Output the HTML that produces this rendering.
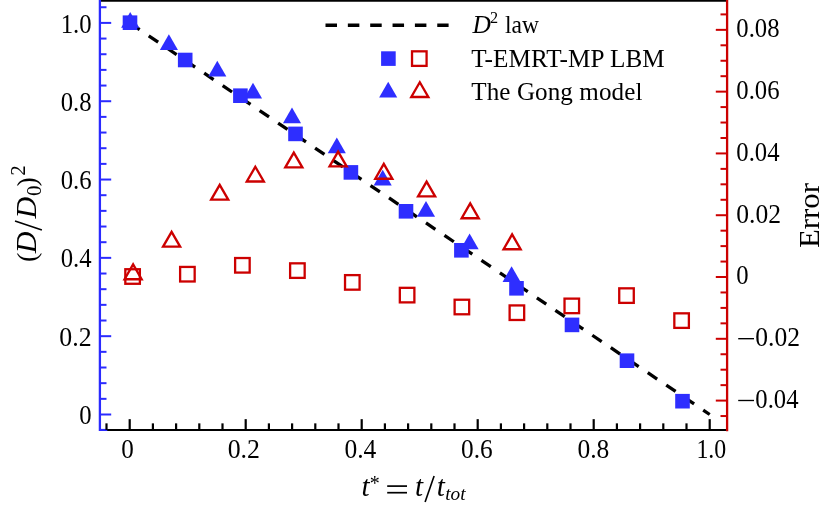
<!DOCTYPE html><html><head><meta charset="utf-8"><style>html,body{margin:0;padding:0;background:#fff}svg{display:block}text{font-family:"Liberation Serif",serif;fill:#000}</style></head><body>
<svg style="will-change:transform" width="827" height="509" viewBox="0 0 827 509">
<rect width="827" height="509" fill="#fff"/>
<line x1="129.7" y1="22.9" x2="709.7" y2="414.5" stroke="#000" stroke-width="3.3" stroke-dasharray="11.3 11" stroke-dashoffset="21.6"/>
<line x1="325.5" y1="25.2" x2="448.6" y2="25.2" stroke="#000" stroke-width="3.5" stroke-dasharray="11.5 10.85"/>
<line x1="99.9" y1="0.55" x2="727.1" y2="0.55" stroke="#000" stroke-width="2.6"/>
<line x1="99.9" y1="429.95" x2="727.1" y2="429.95" stroke="#000" stroke-width="2.1"/>
<line x1="99.9" y1="429.95" x2="107.30" y2="429.95" stroke="#2a2aff" stroke-width="2.1"/>
<line x1="106.50" y1="429.95" x2="106.50" y2="423.34999999999997" stroke="#000" stroke-width="2.2"/>
<line x1="129.70" y1="429.95" x2="129.70" y2="419.15" stroke="#000" stroke-width="2.2"/>
<line x1="152.90" y1="429.95" x2="152.90" y2="423.34999999999997" stroke="#000" stroke-width="2.2"/>
<line x1="176.10" y1="429.95" x2="176.10" y2="423.34999999999997" stroke="#000" stroke-width="2.2"/>
<line x1="199.30" y1="429.95" x2="199.30" y2="423.34999999999997" stroke="#000" stroke-width="2.2"/>
<line x1="222.50" y1="429.95" x2="222.50" y2="423.34999999999997" stroke="#000" stroke-width="2.2"/>
<line x1="245.70" y1="429.95" x2="245.70" y2="419.15" stroke="#000" stroke-width="2.2"/>
<line x1="268.90" y1="429.95" x2="268.90" y2="423.34999999999997" stroke="#000" stroke-width="2.2"/>
<line x1="292.10" y1="429.95" x2="292.10" y2="423.34999999999997" stroke="#000" stroke-width="2.2"/>
<line x1="315.30" y1="429.95" x2="315.30" y2="423.34999999999997" stroke="#000" stroke-width="2.2"/>
<line x1="338.50" y1="429.95" x2="338.50" y2="423.34999999999997" stroke="#000" stroke-width="2.2"/>
<line x1="361.70" y1="429.95" x2="361.70" y2="419.15" stroke="#000" stroke-width="2.2"/>
<line x1="384.90" y1="429.95" x2="384.90" y2="423.34999999999997" stroke="#000" stroke-width="2.2"/>
<line x1="408.10" y1="429.95" x2="408.10" y2="423.34999999999997" stroke="#000" stroke-width="2.2"/>
<line x1="431.30" y1="429.95" x2="431.30" y2="423.34999999999997" stroke="#000" stroke-width="2.2"/>
<line x1="454.50" y1="429.95" x2="454.50" y2="423.34999999999997" stroke="#000" stroke-width="2.2"/>
<line x1="477.70" y1="429.95" x2="477.70" y2="419.15" stroke="#000" stroke-width="2.2"/>
<line x1="500.90" y1="429.95" x2="500.90" y2="423.34999999999997" stroke="#000" stroke-width="2.2"/>
<line x1="524.10" y1="429.95" x2="524.10" y2="423.34999999999997" stroke="#000" stroke-width="2.2"/>
<line x1="547.30" y1="429.95" x2="547.30" y2="423.34999999999997" stroke="#000" stroke-width="2.2"/>
<line x1="570.50" y1="429.95" x2="570.50" y2="423.34999999999997" stroke="#000" stroke-width="2.2"/>
<line x1="593.70" y1="429.95" x2="593.70" y2="419.15" stroke="#000" stroke-width="2.2"/>
<line x1="616.90" y1="429.95" x2="616.90" y2="423.34999999999997" stroke="#000" stroke-width="2.2"/>
<line x1="640.10" y1="429.95" x2="640.10" y2="423.34999999999997" stroke="#000" stroke-width="2.2"/>
<line x1="663.30" y1="429.95" x2="663.30" y2="423.34999999999997" stroke="#000" stroke-width="2.2"/>
<line x1="686.50" y1="429.95" x2="686.50" y2="423.34999999999997" stroke="#000" stroke-width="2.2"/>
<line x1="709.70" y1="429.95" x2="709.70" y2="419.15" stroke="#000" stroke-width="2.2"/>
<line x1="99.9" y1="0" x2="99.9" y2="431.0" stroke="#2a2aff" stroke-width="2.3"/>
<line x1="99.9" y1="414.50" x2="111.2" y2="414.50" stroke="#2a2aff" stroke-width="2"/>
<line x1="99.9" y1="398.84" x2="106.5" y2="398.84" stroke="#2a2aff" stroke-width="2"/>
<line x1="99.9" y1="383.17" x2="106.5" y2="383.17" stroke="#2a2aff" stroke-width="2"/>
<line x1="99.9" y1="367.51" x2="106.5" y2="367.51" stroke="#2a2aff" stroke-width="2"/>
<line x1="99.9" y1="351.84" x2="106.5" y2="351.84" stroke="#2a2aff" stroke-width="2"/>
<line x1="99.9" y1="336.18" x2="111.2" y2="336.18" stroke="#2a2aff" stroke-width="2"/>
<line x1="99.9" y1="320.52" x2="106.5" y2="320.52" stroke="#2a2aff" stroke-width="2"/>
<line x1="99.9" y1="304.85" x2="106.5" y2="304.85" stroke="#2a2aff" stroke-width="2"/>
<line x1="99.9" y1="289.19" x2="106.5" y2="289.19" stroke="#2a2aff" stroke-width="2"/>
<line x1="99.9" y1="273.52" x2="106.5" y2="273.52" stroke="#2a2aff" stroke-width="2"/>
<line x1="99.9" y1="257.86" x2="111.2" y2="257.86" stroke="#2a2aff" stroke-width="2"/>
<line x1="99.9" y1="242.20" x2="106.5" y2="242.20" stroke="#2a2aff" stroke-width="2"/>
<line x1="99.9" y1="226.53" x2="106.5" y2="226.53" stroke="#2a2aff" stroke-width="2"/>
<line x1="99.9" y1="210.87" x2="106.5" y2="210.87" stroke="#2a2aff" stroke-width="2"/>
<line x1="99.9" y1="195.20" x2="106.5" y2="195.20" stroke="#2a2aff" stroke-width="2"/>
<line x1="99.9" y1="179.54" x2="111.2" y2="179.54" stroke="#2a2aff" stroke-width="2"/>
<line x1="99.9" y1="163.88" x2="106.5" y2="163.88" stroke="#2a2aff" stroke-width="2"/>
<line x1="99.9" y1="148.21" x2="106.5" y2="148.21" stroke="#2a2aff" stroke-width="2"/>
<line x1="99.9" y1="132.55" x2="106.5" y2="132.55" stroke="#2a2aff" stroke-width="2"/>
<line x1="99.9" y1="116.88" x2="106.5" y2="116.88" stroke="#2a2aff" stroke-width="2"/>
<line x1="99.9" y1="101.22" x2="111.2" y2="101.22" stroke="#2a2aff" stroke-width="2"/>
<line x1="99.9" y1="85.56" x2="106.5" y2="85.56" stroke="#2a2aff" stroke-width="2"/>
<line x1="99.9" y1="69.89" x2="106.5" y2="69.89" stroke="#2a2aff" stroke-width="2"/>
<line x1="99.9" y1="54.23" x2="106.5" y2="54.23" stroke="#2a2aff" stroke-width="2"/>
<line x1="99.9" y1="38.56" x2="106.5" y2="38.56" stroke="#2a2aff" stroke-width="2"/>
<line x1="99.9" y1="22.90" x2="111.2" y2="22.90" stroke="#2a2aff" stroke-width="2"/>
<line x1="99.9" y1="7.24" x2="106.5" y2="7.24" stroke="#2a2aff" stroke-width="2"/>
<line x1="727.1" y1="0" x2="727.1" y2="431.34999999999997" stroke="#cc0000" stroke-width="2.3"/>
<line x1="727.1" y1="14.40" x2="720.5" y2="14.40" stroke="#cc0000" stroke-width="2"/>
<line x1="727.1" y1="29.85" x2="715.8000000000001" y2="29.85" stroke="#cc0000" stroke-width="2"/>
<line x1="727.1" y1="45.30" x2="720.5" y2="45.30" stroke="#cc0000" stroke-width="2"/>
<line x1="727.1" y1="60.75" x2="720.5" y2="60.75" stroke="#cc0000" stroke-width="2"/>
<line x1="727.1" y1="76.19" x2="720.5" y2="76.19" stroke="#cc0000" stroke-width="2"/>
<line x1="727.1" y1="91.64" x2="715.8000000000001" y2="91.64" stroke="#cc0000" stroke-width="2"/>
<line x1="727.1" y1="107.09" x2="720.5" y2="107.09" stroke="#cc0000" stroke-width="2"/>
<line x1="727.1" y1="122.53" x2="720.5" y2="122.53" stroke="#cc0000" stroke-width="2"/>
<line x1="727.1" y1="137.98" x2="720.5" y2="137.98" stroke="#cc0000" stroke-width="2"/>
<line x1="727.1" y1="153.43" x2="715.8000000000001" y2="153.43" stroke="#cc0000" stroke-width="2"/>
<line x1="727.1" y1="168.88" x2="720.5" y2="168.88" stroke="#cc0000" stroke-width="2"/>
<line x1="727.1" y1="184.32" x2="720.5" y2="184.32" stroke="#cc0000" stroke-width="2"/>
<line x1="727.1" y1="199.77" x2="720.5" y2="199.77" stroke="#cc0000" stroke-width="2"/>
<line x1="727.1" y1="215.22" x2="715.8000000000001" y2="215.22" stroke="#cc0000" stroke-width="2"/>
<line x1="727.1" y1="230.67" x2="720.5" y2="230.67" stroke="#cc0000" stroke-width="2"/>
<line x1="727.1" y1="246.11" x2="720.5" y2="246.11" stroke="#cc0000" stroke-width="2"/>
<line x1="727.1" y1="261.56" x2="720.5" y2="261.56" stroke="#cc0000" stroke-width="2"/>
<line x1="727.1" y1="277.01" x2="715.8000000000001" y2="277.01" stroke="#cc0000" stroke-width="2"/>
<line x1="727.1" y1="292.46" x2="720.5" y2="292.46" stroke="#cc0000" stroke-width="2"/>
<line x1="727.1" y1="307.91" x2="720.5" y2="307.91" stroke="#cc0000" stroke-width="2"/>
<line x1="727.1" y1="323.35" x2="720.5" y2="323.35" stroke="#cc0000" stroke-width="2"/>
<line x1="727.1" y1="338.80" x2="715.8000000000001" y2="338.80" stroke="#cc0000" stroke-width="2"/>
<line x1="727.1" y1="354.25" x2="720.5" y2="354.25" stroke="#cc0000" stroke-width="2"/>
<line x1="727.1" y1="369.69" x2="720.5" y2="369.69" stroke="#cc0000" stroke-width="2"/>
<line x1="727.1" y1="385.14" x2="720.5" y2="385.14" stroke="#cc0000" stroke-width="2"/>
<line x1="727.1" y1="400.59" x2="715.8000000000001" y2="400.59" stroke="#cc0000" stroke-width="2"/>
<line x1="727.1" y1="416.04" x2="720.5" y2="416.04" stroke="#cc0000" stroke-width="2"/>
<polygon points="130.20,12.05 139.25,27.73 121.15,27.73" fill="#2e2eff"/>
<polygon points="168.90,34.35 177.95,50.02 159.85,50.02" fill="#2e2eff"/>
<polygon points="217.30,60.75 226.35,76.42 208.25,76.42" fill="#2e2eff"/>
<polygon points="253.00,82.85 262.05,98.52 243.95,98.52" fill="#2e2eff"/>
<polygon points="292.00,107.55 301.05,123.22 282.95,123.22" fill="#2e2eff"/>
<polygon points="336.80,137.55 345.85,153.22 327.75,153.22" fill="#2e2eff"/>
<polygon points="382.70,169.75 391.75,185.42 373.65,185.42" fill="#2e2eff"/>
<polygon points="426.00,201.05 435.05,216.72 416.95,216.72" fill="#2e2eff"/>
<polygon points="469.60,233.55 478.65,249.22 460.55,249.22" fill="#2e2eff"/>
<polygon points="511.60,266.25 520.65,281.93 502.55,281.93" fill="#2e2eff"/>
<rect x="122.70" y="15.40" width="14.6" height="14.6" fill="#2e2eff"/>
<rect x="177.90" y="52.70" width="14.6" height="14.6" fill="#2e2eff"/>
<rect x="233.10" y="88.40" width="14.6" height="14.6" fill="#2e2eff"/>
<rect x="288.20" y="126.60" width="14.6" height="14.6" fill="#2e2eff"/>
<rect x="343.60" y="165.10" width="14.6" height="14.6" fill="#2e2eff"/>
<rect x="398.70" y="204.00" width="14.6" height="14.6" fill="#2e2eff"/>
<rect x="454.10" y="243.00" width="14.6" height="14.6" fill="#2e2eff"/>
<rect x="509.20" y="281.00" width="14.6" height="14.6" fill="#2e2eff"/>
<rect x="564.70" y="317.60" width="14.6" height="14.6" fill="#2e2eff"/>
<rect x="619.70" y="353.40" width="14.6" height="14.6" fill="#2e2eff"/>
<rect x="675.20" y="393.90" width="14.6" height="14.6" fill="#2e2eff"/>
<rect x="125.32" y="269.23" width="14.55" height="14.55" fill="none" stroke="#cc0000" stroke-width="2.3"/>
<rect x="180.12" y="266.93" width="14.55" height="14.55" fill="none" stroke="#cc0000" stroke-width="2.3"/>
<rect x="235.12" y="258.03" width="14.55" height="14.55" fill="none" stroke="#cc0000" stroke-width="2.3"/>
<rect x="290.12" y="263.33" width="14.55" height="14.55" fill="none" stroke="#cc0000" stroke-width="2.3"/>
<rect x="345.03" y="275.12" width="14.55" height="14.55" fill="none" stroke="#cc0000" stroke-width="2.3"/>
<rect x="399.83" y="287.83" width="14.55" height="14.55" fill="none" stroke="#cc0000" stroke-width="2.3"/>
<rect x="454.62" y="299.73" width="14.55" height="14.55" fill="none" stroke="#cc0000" stroke-width="2.3"/>
<rect x="509.62" y="305.43" width="14.55" height="14.55" fill="none" stroke="#cc0000" stroke-width="2.3"/>
<rect x="564.52" y="298.62" width="14.55" height="14.55" fill="none" stroke="#cc0000" stroke-width="2.3"/>
<rect x="619.23" y="288.33" width="14.55" height="14.55" fill="none" stroke="#cc0000" stroke-width="2.3"/>
<rect x="674.33" y="313.33" width="14.55" height="14.55" fill="none" stroke="#cc0000" stroke-width="2.3"/>
<polygon points="133.10,264.45 141.63,279.23 124.57,279.23" fill="none" stroke="#cc0000" stroke-width="2.35" stroke-miterlimit="10"/>
<polygon points="171.60,231.85 180.13,246.62 163.07,246.62" fill="none" stroke="#cc0000" stroke-width="2.35" stroke-miterlimit="10"/>
<polygon points="219.70,184.85 228.23,199.62 211.17,199.62" fill="none" stroke="#cc0000" stroke-width="2.35" stroke-miterlimit="10"/>
<polygon points="255.30,166.75 263.83,181.53 246.77,181.53" fill="none" stroke="#cc0000" stroke-width="2.35" stroke-miterlimit="10"/>
<polygon points="293.80,152.65 302.33,167.43 285.27,167.43" fill="none" stroke="#cc0000" stroke-width="2.35" stroke-miterlimit="10"/>
<polygon points="338.10,151.65 346.63,166.43 329.57,166.43" fill="none" stroke="#cc0000" stroke-width="2.35" stroke-miterlimit="10"/>
<polygon points="383.80,163.95 392.33,178.73 375.27,178.73" fill="none" stroke="#cc0000" stroke-width="2.35" stroke-miterlimit="10"/>
<polygon points="426.60,181.55 435.13,196.33 418.07,196.33" fill="none" stroke="#cc0000" stroke-width="2.35" stroke-miterlimit="10"/>
<polygon points="470.20,203.45 478.73,218.23 461.67,218.23" fill="none" stroke="#cc0000" stroke-width="2.35" stroke-miterlimit="10"/>
<polygon points="512.10,234.45 520.63,249.23 503.57,249.23" fill="none" stroke="#cc0000" stroke-width="2.35" stroke-miterlimit="10"/>
<rect x="381.10" y="51.30" width="14.6" height="14.6" fill="#2e2eff"/>
<rect x="412.03" y="51.33" width="14.55" height="14.55" fill="none" stroke="#cc0000" stroke-width="2.3"/>
<polygon points="388.20,81.75 397.25,97.42 379.15,97.42" fill="#2e2eff"/>
<polygon points="419.80,82.25 428.33,97.02 411.27,97.02" fill="none" stroke="#cc0000" stroke-width="2.35" stroke-miterlimit="10"/>
<text transform="translate(91.60,32.50) scale(0.915,1)" font-size="27" text-anchor="end">1.0</text>
<text transform="translate(91.60,110.82) scale(0.915,1)" font-size="27" text-anchor="end">0.8</text>
<text transform="translate(91.60,189.14) scale(0.915,1)" font-size="27" text-anchor="end">0.6</text>
<text transform="translate(91.60,267.46) scale(0.915,1)" font-size="27" text-anchor="end">0.4</text>
<text transform="translate(91.60,345.78) scale(0.957,1)" font-size="27" text-anchor="end">0.2</text>
<text transform="translate(91.60,424.10) scale(0.915,1)" font-size="27" text-anchor="end">0</text>
<text transform="translate(736.30,37.20) scale(0.915,1)" font-size="27" text-anchor="start">0.08</text>
<text transform="translate(736.30,98.99) scale(0.915,1)" font-size="27" text-anchor="start">0.06</text>
<text transform="translate(736.30,160.78) scale(0.915,1)" font-size="27" text-anchor="start">0.04</text>
<text transform="translate(736.30,222.57) scale(0.947,1)" font-size="27" text-anchor="start">0.02</text>
<text transform="translate(736.30,284.36) scale(0.915,1)" font-size="27" text-anchor="start">0</text>
<line x1="738.2" y1="338.70" x2="754" y2="338.70" stroke="#000" stroke-width="1.35"/>
<text transform="translate(755.30,346.15) scale(0.947,1)" font-size="27" text-anchor="start">0.02</text>
<line x1="738.2" y1="400.49" x2="754" y2="400.49" stroke="#000" stroke-width="1.35"/>
<text transform="translate(755.30,407.94) scale(0.915,1)" font-size="27" text-anchor="start">0.04</text>
<text transform="translate(127.60,457.90) scale(0.93,1)" font-size="27" text-anchor="middle">0</text>
<text transform="translate(243.80,457.90) scale(0.957,1)" font-size="27" text-anchor="middle">0.2</text>
<text transform="translate(360.40,457.90) scale(0.945,1)" font-size="27" text-anchor="middle">0.4</text>
<text transform="translate(476.90,457.90) scale(0.939,1)" font-size="27" text-anchor="middle">0.6</text>
<text transform="translate(593.35,457.90) scale(0.945,1)" font-size="27" text-anchor="middle">0.8</text>
<text transform="translate(711.30,457.90) scale(0.885,1)" font-size="27" text-anchor="middle">1.0</text>
<text x="472.5" y="32.6" font-size="25.4" font-style="italic">D</text>
<text x="490.1" y="23" font-size="16.2">2</text>
<text transform="translate(505,32.6) scale(0.958,1)" font-size="24.6">law</text>
<text x="471.3" y="66.8" letter-spacing="0.09" font-size="25.2">T-EMRT-MP LBM</text>
<text x="471.3" y="100.3" letter-spacing="0.08" font-size="25.1">The Gong model</text>
<text transform="translate(819.3,215.6) rotate(-90) scale(1,0.965)" font-size="30.8" text-anchor="middle">Error</text>
<g transform="translate(36.4,261.4) rotate(-90)">
<text x="-0.7" y="-0.85" font-size="28">(</text>
<text x="8.1" y="0" font-size="30" font-style="italic">D</text>
<line x1="31.3" y1="5.5" x2="40.3" y2="-21.4" stroke="#000" stroke-width="1.6"/>
<text x="42.8" y="0" font-size="30" font-style="italic">D</text>
<text x="65.4" y="4.3" font-size="21">0</text>
<text x="74.9" y="-0.85" font-size="28">)</text>
<text x="85.7" y="-11.7" font-size="21">2</text>
</g>
<text x="361.4" y="495.9" font-size="29" font-style="italic">t</text>
<text x="369.8" y="490.4" font-size="20">*</text>
<line x1="387.2" y1="486.1" x2="407" y2="486.1" stroke="#000" stroke-width="1.7"/>
<line x1="387.2" y1="492.7" x2="407" y2="492.7" stroke="#000" stroke-width="1.7"/>
<text x="415" y="495.9" font-size="29" font-style="italic">t</text>
<line x1="425.1" y1="502.1" x2="434.1" y2="476" stroke="#000" stroke-width="1.6"/>
<text x="436.7" y="495.9" font-size="29" font-style="italic">t</text>
<text x="445.2" y="500.1" font-size="19.3" font-style="italic">tot</text>
</svg></body></html>
